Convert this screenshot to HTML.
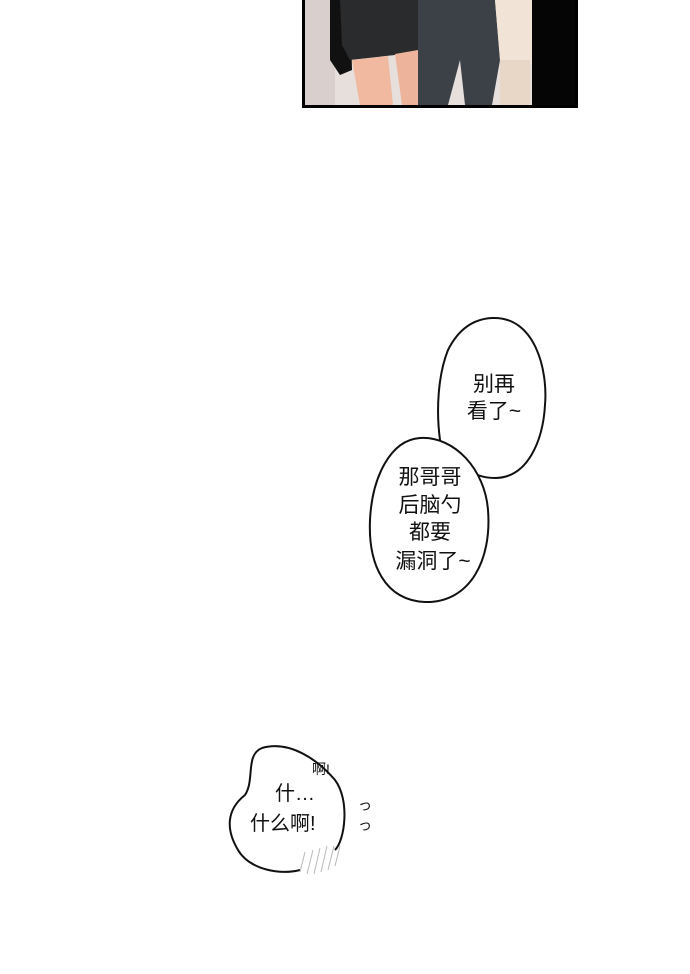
<!DOCTYPE html>
<html><head><meta charset="utf-8"><style>
body{margin:0;background:#fff;}
svg{display:block}
text{font-family:"Liberation Sans","Noto Sans CJK SC",sans-serif;fill:#111}
</style></head><body>
<svg width="690" height="974" viewBox="0 0 690 974">
<!-- top panel -->
<rect x="302" y="0" width="276" height="108" fill="#000"/>
<rect x="305" y="0" width="270" height="105" fill="#e6dfdc"/>
<rect x="305" y="0" width="30" height="105" fill="#d9d0cd"/>
<path d="M330 0 L350 0 L352 70 L340 75 L330 60 Z" fill="#111"/>
<path d="M340 0 L418 0 L420 50 L395 55 L350 60 L342 45 Z" fill="#2a2b2d"/>
<path d="M352 60 L388 56 L393 105 L360 105 Z" fill="#f0b9a0"/>
<path d="M395 54 L418 50 L418 105 L402 105 Z" fill="#eeb49b"/>
<path d="M418 0 L495 0 L500 60 L492 105 L465 105 L460 60 L448 105 L418 105 Z" fill="#3c4147"/>
<path d="M495 0 L535 0 L538 60 L520 70 L500 60 Z" fill="#f1e3d6"/>
<rect x="500" y="60" width="30" height="45" fill="#e8d6c6"/>
<rect x="532" y="0" width="43" height="105" fill="#050505"/>
<!-- bubble 1 -->
<path d="M492 318 C535 316 548 370 545 405 C543 440 528 478 495 478 C470 478 450 460 440 440 C436 410 438 375 448 350 C458 330 472 319 492 318 Z" fill="#fff" stroke="#111" stroke-width="2"/>
<text x="494" y="391" font-size="21" text-anchor="middle">别再</text>
<text x="494" y="418" font-size="21" text-anchor="middle">看了~</text>
<!-- bubble 2 -->
<path d="M420 438 C455 436 485 470 488 510 C492 560 470 603 425 602 C385 600 368 565 370 520 C372 478 390 440 420 438 Z" fill="#fff" stroke="#111" stroke-width="2"/>
<text x="430" y="484" font-size="21" text-anchor="middle">那哥哥</text>
<text x="430" y="512" font-size="21" text-anchor="middle">后脑勺</text>
<text x="430" y="539" font-size="21" text-anchor="middle">都要</text>
<text x="433" y="568" font-size="21" text-anchor="middle">漏洞了~</text>
<!-- bubble 3 -->
<path d="M262 748 C290 740 318 760 335 780 C350 800 345 840 335 850 M300 870 C280 875 250 870 238 850 C226 830 226 810 245 795 C255 780 245 755 262 748" fill="none" stroke="#111" stroke-width="2"/>
<text x="275" y="800" font-size="20">什…</text>
<text x="250" y="830" font-size="20">什么啊!</text>
<text x="312" y="774" font-size="14">啊!</text>
<text x="358" y="810" font-size="14">っ</text>
<text x="358" y="830" font-size="14">っ</text>
<g stroke="#bbb" stroke-width="1">
<line x1="300" y1="872" x2="305" y2="852"/><line x1="307" y1="874" x2="313" y2="850"/>
<line x1="314" y1="874" x2="320" y2="848"/><line x1="321" y1="872" x2="327" y2="846"/>
<line x1="328" y1="870" x2="334" y2="846"/><line x1="335" y1="866" x2="340" y2="846"/>
</g>
</svg>
</body></html>
